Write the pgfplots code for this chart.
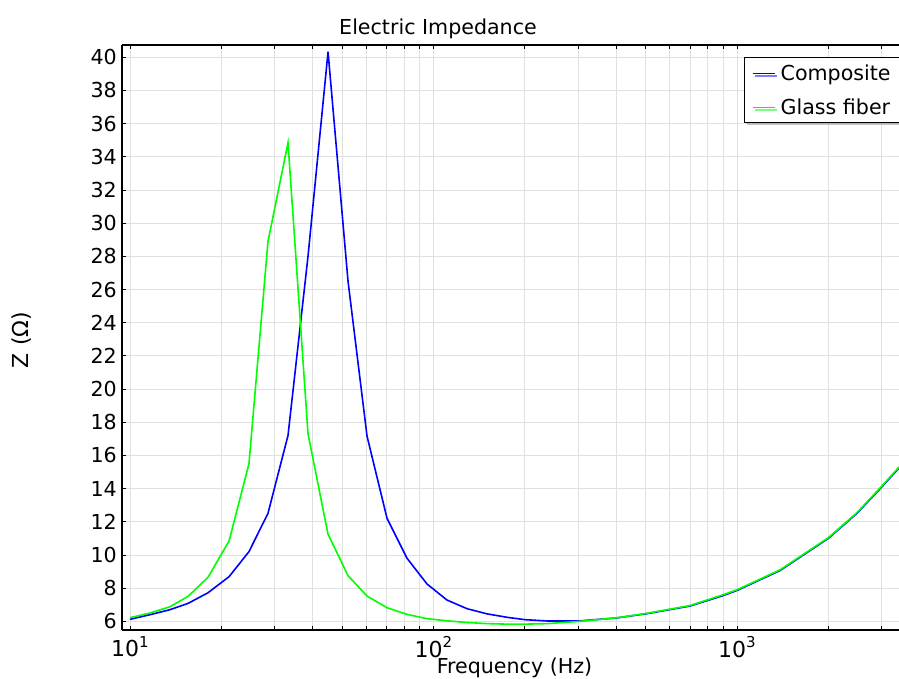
\documentclass[border=0pt]{standalone}
\usepackage{fontspec}
\setmainfont{DejaVu Sans}
\usepackage{pgfplots}
\pgfplotsset{compat=1.18}
\usetikzlibrary{shadows}
\newcommand{\fs}{\fontsize{20.6}{24.7}\selectfont}
\newcommand{\tenpow}[1]{{\fontsize{22}{24}\selectfont 10\raisebox{0.42em}{\fontsize{15}{15}\selectfont #1}}}
\begin{document}
\begin{tikzpicture}
\path[use as bounding box] (-122pt,-48pt) rectangle (777pt,630pt);
\begin{axis}[
  xmode=log, scale only axis, width=777pt, height=585pt,
  xmin=9.411, xmax=3419, ymin=5.476, ymax=40.741,
  axis x line*=box, axis y line*=left,
  axis line style={black, line width=1.1pt},
  xtick={10,100,1000},
  xticklabels={\tenpow{1},\tenpow{2},\tenpow{3}},
  minor xtick={20,30,40,50,60,70,80,90,200,300,400,500,600,700,800,900,2000,3000},
  ytick={6,8,...,40},
  tick align=inside,
  major tick length=4.5pt, minor tick length=4.5pt,
  tick style={black, line width=0.8pt},
  xmajorgrids=true, xminorgrids=true, ymajorgrids=true,
  major grid style={black!12, line width=0.9pt},
  minor grid style={black!12, line width=0.9pt},
  /pgf/number format/assume math mode=true,
  tick label style={font=\fs},
  xticklabel style={inner sep=0pt, anchor=north, yshift=-6.5pt},
  yticklabel style={inner sep=0pt, anchor=east, xshift=-5pt},
  every axis title shift=0pt,
  title={Electric Impedance},
  title style={font=\fs, at={(axis description cs:0.4067,1.0171)}, anchor=base, inner sep=0pt},
  xlabel={Frequency (Hz)},
  xlabel style={font=\fs, at={(axis description cs:0.5051,-0.0735)}, anchor=base, inner sep=0pt},
  ylabel={Z (Ω)},
  ylabel style={font=\fontsize{22}{26}\selectfont, at={(axis description cs:-0.1287,0.4957)}, anchor=center, inner sep=0pt},
  legend style={at={(axis description cs:1.0103,0.97949)}, anchor=north east,
    draw=black, line width=0.8pt, fill=white, font=\fs,
    drop shadow={shadow xshift=2.5pt, shadow yshift=-2.5pt, fill=black!45},
    inner xsep=8pt, inner ysep=8pt, row sep=19pt,
    nodes={inner sep=0pt, text height=15pt, text depth=0pt}},
  legend cell align=left,
  legend image code/.code={\draw[#1, line width=1.2pt] (0pt,-0.5pt) -- (22pt,-0.5pt); \path (27pt,-0.5pt);},
]
\addplot[color={rgb,255:red,0;green,0;blue,255}, line width=1.6pt] coordinates {
(10,6.12) (11.64,6.40) (13.54,6.70) (15.53,7.08) (18.07,7.72) (21.2,8.69)
(24.66,10.20) (28.49,12.51) (33.16,17.20) (38.6,28.0) (44.93,40.33) (52.29,26.5)
(60.39,17.17) (70.29,12.21) (81.8,9.80) (95.2,8.25) (110.8,7.28) (129,6.76)
(150,6.45) (175,6.24) (200,6.10) (237,6.02) (300,6.02) (400,6.20) (505,6.46)
(700,6.92) (900,7.55) (1000,7.86) (1386,9.06) (2000,11.0) (2486,12.51)
(3004,14.11) (3420,15.25)
};
\addlegendentry{Composite\hspace*{8pt}}
\addplot[color={rgb,255:red,0;green,255;blue,0}, line width=1.6pt] coordinates {
(10,6.22) (11.64,6.50) (13.54,6.88) (15.53,7.50) (18.07,8.65) (21.2,10.84)
(24.66,15.5) (28.49,28.9) (33.16,34.85) (38.6,17.3) (44.93,11.25) (52.29,8.75)
(60.39,7.52) (70.29,6.82) (81.8,6.42) (95.2,6.16) (110.8,6.03) (129,5.93)
(150,5.86) (175,5.83) (200,5.83) (237,5.86) (300,5.99) (400,6.21) (505,6.48)
(700,6.95) (900,7.60) (1000,7.90) (1386,9.10) (2000,11.04) (2486,12.55)
(3004,14.16) (3420,15.30)
};
\addlegendentry{Glass fiber\hspace*{8pt}}
\end{axis}
\end{tikzpicture}
\end{document}
